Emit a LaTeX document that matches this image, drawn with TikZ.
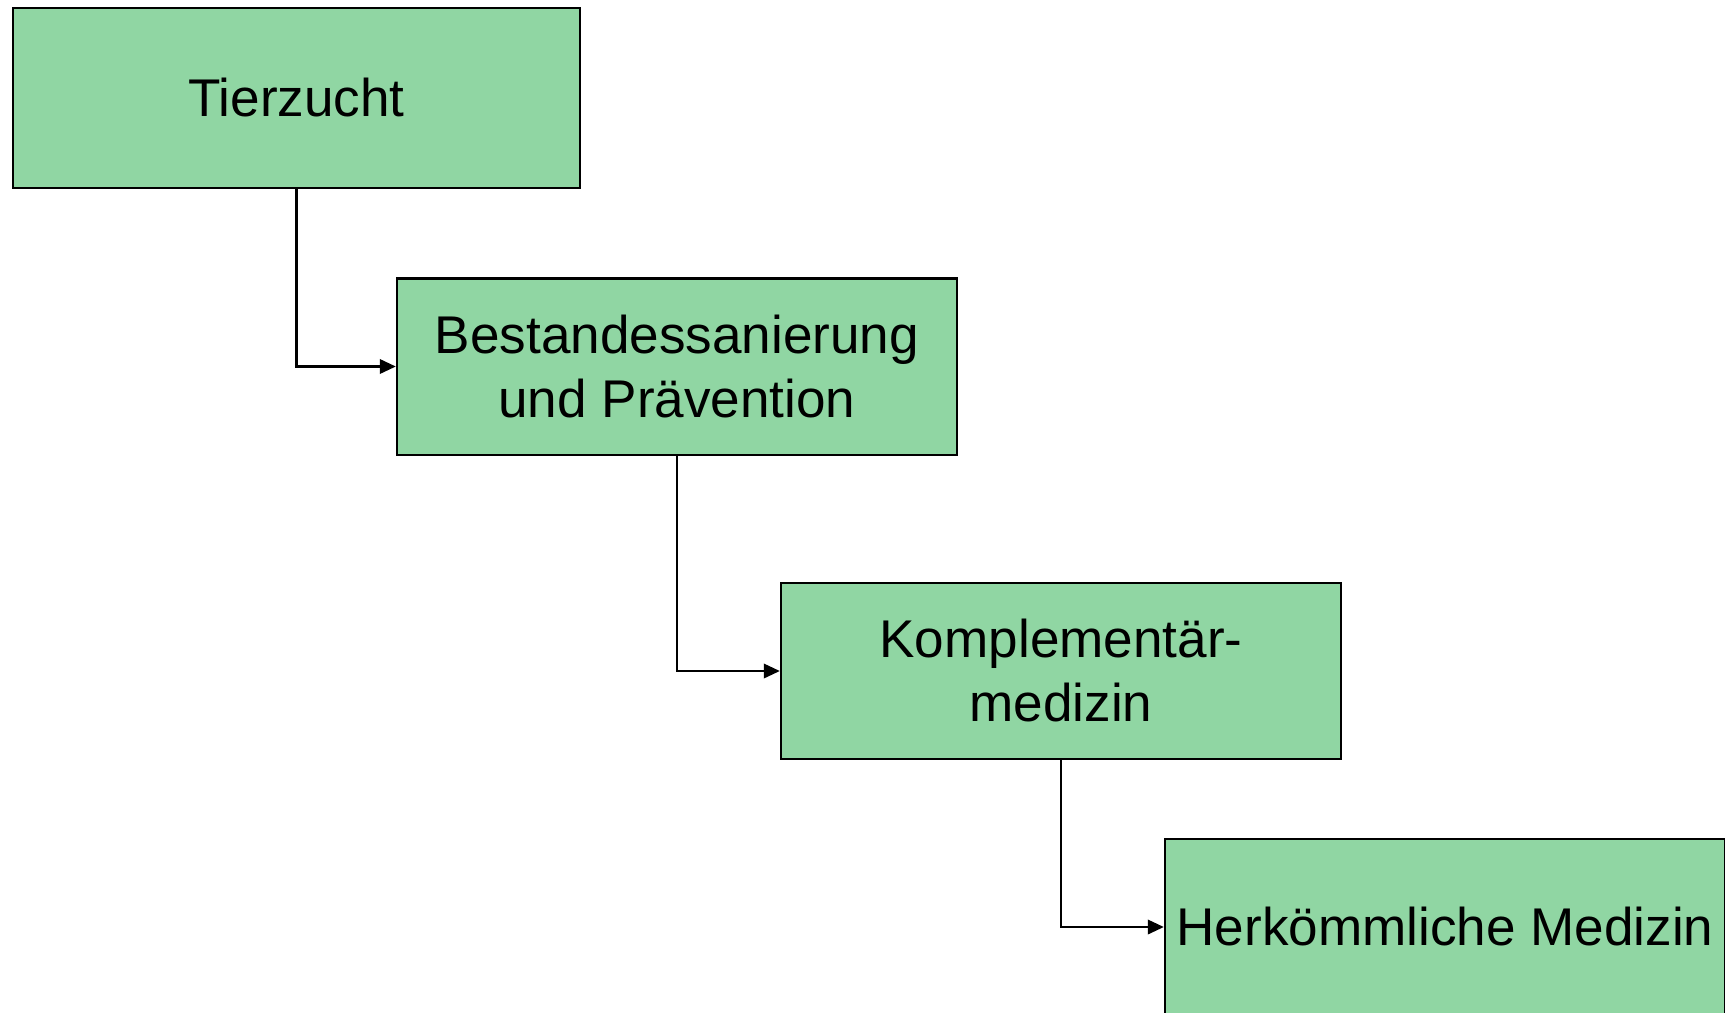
\documentclass[tikz,border=0pt]{standalone}
\usepackage{fontspec}
\setmainfont{Liberation Sans}
\usetikzlibrary{arrows.meta,positioning}

\definecolor{boxgreen}{RGB}{144,214,163}

\tikzset{
  stufe/.style={draw=black, fill=boxgreen, line width=0.6pt, inner sep=0pt,
    minimum width=5.6cm, minimum height=1.76cm, align=center,
    font=\fontsize{15.1}{18.2}\selectfont},
  pfeil/.style={line width=0.6pt, -{Triangle[length=1.6mm,width=1.45mm]}}
}

\begin{document}
\begin{tikzpicture}[x=0.01cm, y=-0.01cm]
      \useasboundingbox (0,0) rectangle (1725,1012);

      \node[stufe, minimum width=5.67cm, minimum height=1.8cm] (tier) at (296.5,98) {Tierzucht};
      \node[stufe] (bestand) at (677,366.5) {Bestandessanierung\\und Prävention};
      \node[stufe] (kompl) at (1061,671) {Komplementär-\\medizin};
      \node[stufe] (herk) at (1445,927) {Herkömmliche Medizin};

      \draw[pfeil] (tier.south) |- (bestand.west);
      \draw[pfeil] (bestand.south) |- (kompl.west);
      \draw[pfeil] (kompl.south) |- (herk.west);
    \end{tikzpicture}
\end{document}
